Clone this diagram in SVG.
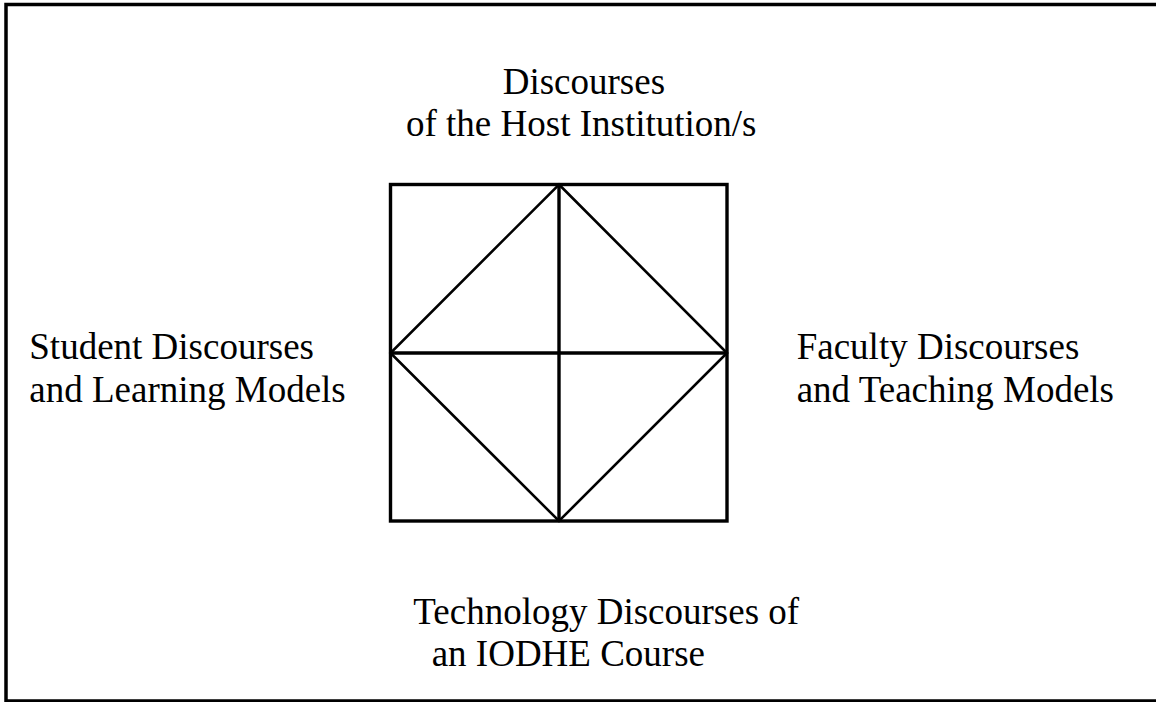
<svg xmlns="http://www.w3.org/2000/svg" width="1156" height="702" viewBox="0 0 1156 702">
<style>
.lbl{font-family:"Liberation Serif","Times New Roman",serif;font-size:37px;fill:#000}
.frame{fill:none;stroke:#000;stroke-width:3.5}
.box{fill:none;stroke:#000;stroke-width:3.4}
.diag{fill:none;stroke:#000;stroke-width:2.6}
</style>
<rect width="1156" height="702" fill="#fff"/>
<path class="frame" d="M1158,4.5 H6 V701 H1158"/>
<g id="connectors">
<rect class="box" x="390.5" y="184.5" width="336.5" height="336.5"/>
<line class="box" x1="559" y1="184.5" x2="559" y2="521"/>
<line class="box" x1="390.5" y1="353" x2="727" y2="353"/>
<polygon class="diag" points="559,184.5 727,353 559,521 390.5,353" stroke-linejoin="miter"/>
</g>
<g id="node-top">
<text class="lbl" x="502.7" y="93.5">Discourses</text>
<text class="lbl" x="406" y="135.5">of the Host Institution/s</text>
</g>
<g id="node-left">
<text class="lbl" x="29.3" y="359">Student Discourses</text>
<text class="lbl" x="29.3" y="401.7">and Learning Models</text>
</g>
<g id="node-right">
<text class="lbl" x="796.7" y="359">Faculty Discourses</text>
<text class="lbl" x="796.7" y="401.7">and Teaching Models</text>
</g>
<g id="node-bottom">
<text class="lbl" x="413.3" y="623.5">Technology Discourses of</text>
<text class="lbl" x="431.7" y="666">an IODHE Course</text>
</g>
</svg>
